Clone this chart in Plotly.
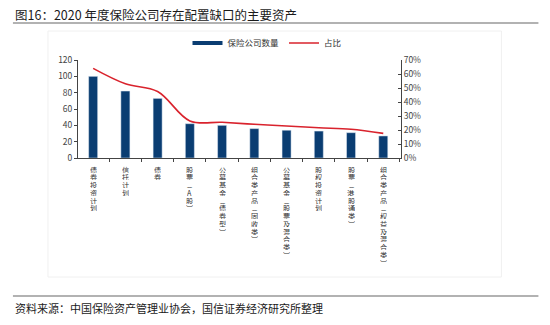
import plotly.graph_objects as go

categories = ["债券投资计划", "信托计划", "债券", "股票（A股）", "公募基金（债券型）",
              "组合类产品（固收类）", "公募基金（股票及混合类）", "股权投资计划",
              "股票（港股通类）", "组合类产品（权益及混合类）"]
counts = [100, 82, 73, 42, 40, 36, 34, 33, 31, 27]
shares = [0.64, 0.53, 0.475, 0.265, 0.255, 0.241, 0.229, 0.216, 0.205, 0.176]
left_ticks = [0, 20, 40, 60, 80, 100, 120]
right_ticks = [0, 0.1, 0.2, 0.3, 0.4, 0.5, 0.6, 0.7]

BLUE = "#0a3d72"
RED = "#d9232d"
FONT = "Noto Sans CJK SC"
PW = 322.7  # plot width in px
PH = 98.0   # plot height in px

fig = go.Figure()
fig.add_trace(go.Bar(x=categories, y=counts, name="保险公司数量", marker_color=BLUE,
                     width=0.28, showlegend=False, yaxis="y"))
fig.add_trace(go.Scatter(x=[None], y=[None], mode="lines", name="保险公司数量",
                         line=dict(color=BLUE, width=4), yaxis="y"))
fig.add_trace(go.Scatter(x=categories, y=shares, mode="lines", name="占比",
                         line=dict(color=RED, width=1.6, shape="spline", smoothing=1.0),
                         yaxis="y2"))

vert = {"（": "︵", "）": "︶"}
annotations = []
for cat in categories:
    for i, ch in enumerate(cat):
        annotations.append(dict(x=cat, xref="x", y=0, yref="paper", yanchor="middle",
                                xanchor="center", yshift=-(11 + 7.75 * i), showarrow=False,
                                text=vert.get(ch, ch), height=7, borderpad=0,
                                font=dict(family=FONT, size=7.2, color="#333")))

annotations.append(dict(x=(13 - 78) / PW, xref="paper", y=1, yref="paper", xanchor="left",
                        yanchor="middle", yshift=60 - 14, showarrow=False,
                        text="图16：2020 年度保险公司存在配置缺口的主要资产",
                        font=dict(family=FONT, size=12.5, color="#1a1a1a")))
annotations.append(dict(x=(13 - 78) / PW, xref="paper", y=0, yref="paper", xanchor="left",
                        yanchor="middle", yshift=-(308 - 158), showarrow=False,
                        text="资料来源：中国保险资产管理业协会，国信证券经济研究所整理",
                        font=dict(family=FONT, size=11, color="#1a1a1a")))

fig.update_layout(
    width=550, height=325,
    margin=dict(l=78, r=149.3, t=60, b=167),
    paper_bgcolor="white", plot_bgcolor="white",
    font=dict(family=FONT, size=8, color="#333"),
    xaxis=dict(type="category", range=[-0.47, 9.55], showticklabels=False,
               showline=True, linecolor="#444", linewidth=1,
               ticks="outside", ticklen=3, tickcolor="#444", tickson="boundaries",
               showgrid=False, zeroline=False),
    yaxis=dict(range=[0, 120], tickvals=left_ticks, showline=True, linecolor="#444",
               linewidth=1, ticks="outside", ticklen=3, tickcolor="#444",
               showgrid=False, zeroline=False, tickfont=dict(size=8.5, color="#444")),
    yaxis2=dict(range=[0, 0.7], tickvals=right_ticks, tickformat=".0%", overlaying="y",
                side="right", showline=True, linecolor="#444", linewidth=1,
                ticks="inside", ticklen=3, tickcolor="#444", showgrid=False,
                zeroline=False, tickfont=dict(size=8.5, color="#444")),
    legend=dict(orientation="h", x=0.339, xanchor="left", y=1 + (60 - 43) / PH,
                yanchor="middle", font=dict(size=8.5, color="#333"),
                itemwidth=30, bgcolor="rgba(0,0,0,0)"),
    annotations=annotations,
    shapes=[
        dict(type="line", xref="paper", yref="paper",
             x0=(13 - 78) / PW, x1=(538 - 78) / PW,
             y0=(158 - 23) / PH, y1=(158 - 23) / PH,
             line=dict(color="#999", width=1.5)),
        dict(type="line", xref="paper", yref="paper",
             x0=(13 - 78) / PW, x1=(538 - 78) / PW,
             y0=(158 - 296) / PH, y1=(158 - 296) / PH,
             line=dict(color="#999", width=1.5)),
        dict(type="rect", xref="paper", yref="paper",
             x0=(48 - 78) / PW, x1=(501 - 78) / PW,
             y0=(158 - 277) / PH, y1=(158 - 31) / PH,
             line=dict(color="#f0f0f0", width=1), layer="below"),
    ],
)

fig.write_html("out.html")
